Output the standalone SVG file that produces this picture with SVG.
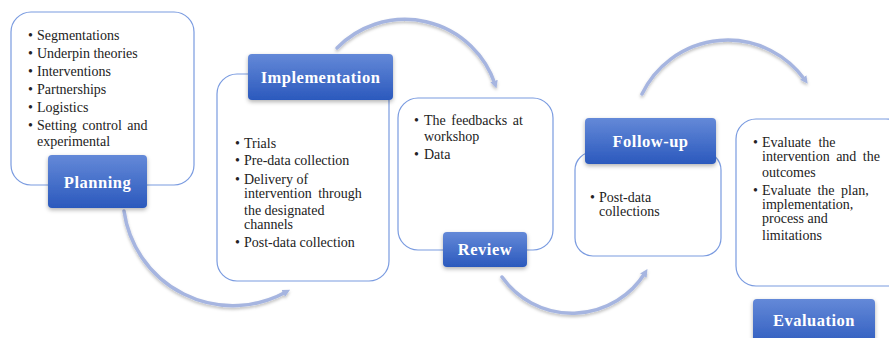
<svg xmlns="http://www.w3.org/2000/svg" width="889" height="338" viewBox="0 0 889 338">
<style>
.box{fill:#fff;stroke:#7a9be0;stroke-width:1.2}
.lbl{fill:url(#lg);filter:url(#sh)}
.lt{font-family:"Liberation Serif","Times New Roman",serif;font-weight:bold;font-size:16.5px;letter-spacing:0.5px;fill:#fff;text-anchor:middle}
.bt text{font-family:"Liberation Serif","Times New Roman",serif;font-size:14px;fill:#222}
.arc{fill:none;stroke:#a6b5e0;stroke-width:3.5;stroke-linecap:round;filter:url(#ash);marker-end:url(#ah)}
</style>
<defs>
<linearGradient id="lg" x1="0" y1="0" x2="0" y2="1">
<stop offset="0" stop-color="#6489d8"/>
<stop offset="1" stop-color="#2b59bd"/>
</linearGradient>
<filter id="sh" x="-20%" y="-20%" width="140%" height="150%">
<feDropShadow dx="0" dy="2" stdDeviation="2" flood-color="#000" flood-opacity="0.3"/>
</filter>
<filter id="ash" x="-20%" y="-20%" width="140%" height="150%">
<feDropShadow dx="0" dy="2" stdDeviation="1.5" flood-color="#000" flood-opacity="0.25"/>
</filter>
<marker id="ah" viewBox="0 0 10 10" refX="4" refY="5" markerWidth="2.2" markerHeight="2.2" orient="auto" markerUnits="strokeWidth">
<path d="M0,0 L10,5 L0,10 z" fill="#a6b5e0"/>
</marker>
</defs>

<g id="connectors">
<path class="arc" d="M124,211 A110,110 0 0 0 286,292"/>
<path class="arc" d="M337,48 A95,95 0 0 1 495,84"/>
<path class="arc" d="M502,277 A86,86 0 0 0 645,273"/>
<path class="arc" d="M642,94 A95,95 0 0 1 805,80"/>
</g>

<g id="planning">
<rect class="box" x="11" y="12" width="183" height="173" rx="20"/>
<g class="bt">
<text x="28" y="40">•</text><text x="37" y="40">Segmentations</text>
<text x="28" y="58">•</text><text x="37" y="58">Underpin theories</text>
<text x="28" y="76">•</text><text x="37" y="76">Interventions</text>
<text x="28" y="94">•</text><text x="37" y="94">Partnerships</text>
<text x="28" y="112">•</text><text x="37" y="112">Logistics</text>
<text x="28" y="130">•</text><text x="37" y="130" word-spacing="2">Setting control and</text>
<text x="37" y="146">experimental</text>
</g>
<rect class="lbl" x="48" y="155" width="99" height="53" rx="4"/>
<text class="lt" x="97.5" y="188">Planning</text>
</g>

<g id="implementation">
<rect class="box" x="217" y="74" width="172" height="207" rx="20"/>
<g class="bt">
<text x="235" y="148">•</text><text x="244" y="148">Trials</text>
<text x="235" y="165">•</text><text x="244" y="165">Pre-data collection</text>
<text x="235" y="184">•</text><text x="244" y="184">Delivery of</text>
<text x="244" y="198" word-spacing="3">intervention through</text>
<text x="244" y="215">the designated</text>
<text x="244" y="229">channels</text>
<text x="235" y="247">•</text><text x="244" y="247">Post-data collection</text>
</g>
<rect class="lbl" x="248" y="54" width="145" height="46" rx="4"/>
<text class="lt" x="320.5" y="83">Implementation</text>
</g>

<g id="review">
<rect class="box" x="398" y="98" width="155" height="152" rx="20"/>
<g class="bt">
<text x="414" y="125">•</text><text x="424" y="125" word-spacing="2">The feedbacks at</text>
<text x="424" y="141">workshop</text>
<text x="414" y="159">•</text><text x="424" y="159">Data</text>
</g>
<rect class="lbl" x="443" y="232" width="84" height="35" rx="4"/>
<text class="lt" x="485" y="255">Review</text>
</g>

<g id="followup">
<rect class="box" x="575" y="152" width="146" height="104" rx="18"/>
<g class="bt">
<text x="590" y="202">•</text><text x="599" y="202">Post-data</text>
<text x="599" y="216">collections</text>
</g>
<rect class="lbl" x="585" y="118" width="131" height="46" rx="4"/>
<text class="lt" x="650.5" y="147">Follow-up</text>
</g>

<g id="evaluation">
<rect class="box" x="736" y="119" width="170" height="167" rx="20"/>
<g class="bt">
<text x="753" y="147">•</text><text x="762" y="147" word-spacing="4">Evaluate the</text>
<text x="762" y="161" word-spacing="3">intervention and the</text>
<text x="762" y="177">outcomes</text>
<text x="753" y="195">•</text><text x="762" y="195" word-spacing="3">Evaluate the plan,</text>
<text x="762" y="209">implementation,</text>
<text x="762" y="223">process and</text>
<text x="762" y="240">limitations</text>
</g>
<rect class="lbl" x="753" y="299" width="122" height="50" rx="4"/>
<text class="lt" x="814" y="326">Evaluation</text>
</g>
</svg>
